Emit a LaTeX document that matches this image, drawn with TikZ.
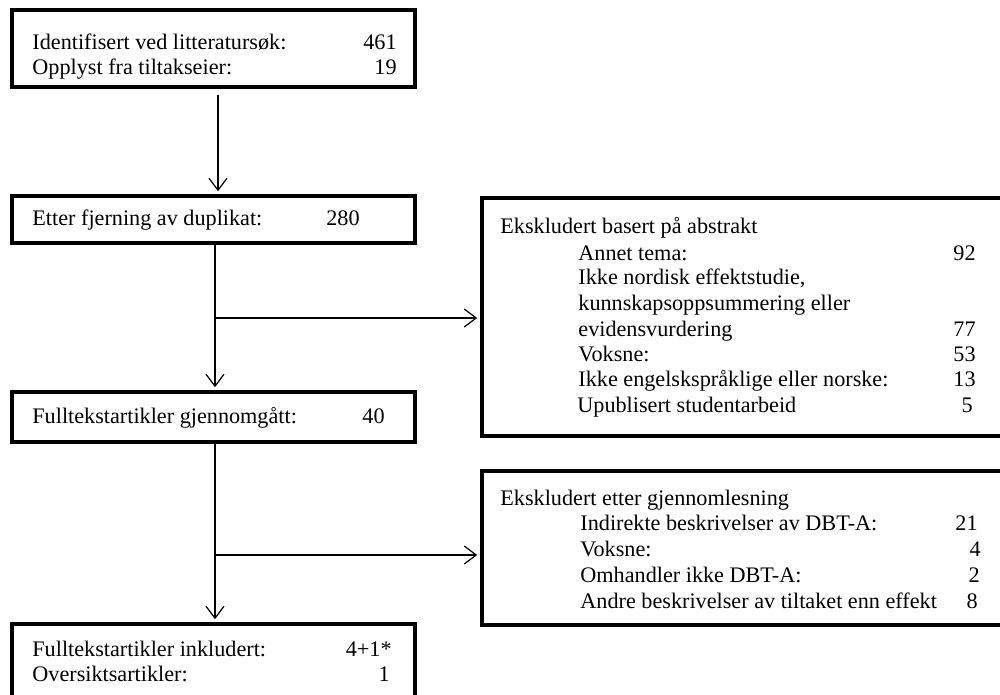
\documentclass[tikz,border=0pt]{standalone}
\usepackage{fontspec}
\setmainfont{Liberation Serif}
\usetikzlibrary{arrows.meta}
\tikzset{
  box/.style={draw=black, line width=2.4pt, fill=white, rectangle, inner sep=0pt},
  txt/.style={inner sep=0pt, anchor=base west, font=\fontsize{11.1}{13}\selectfont},
  num/.style={inner sep=0pt, anchor=base east, font=\fontsize{11.1}{13}\selectfont},
  arr/.style={draw=black, line width=0.6pt, -{Straight Barb[length=6pt,width=9pt,line width=0.6pt]}, shorten >=1.2pt}
}
\begin{document}
\begin{tikzpicture}[x=0.5pt,y=-0.5pt]
\useasboundingbox (0,0) rectangle (1000,695);
\clip (0,0) rectangle (1000,695);
\fill[white] (0,0) rectangle (1000,695);
% boxes
\node[box, minimum width=201.5pt, minimum height=38.5pt] (box1) at (213.5,48.5) {};
\node[box, minimum width=201.5pt, minimum height=23.5pt] (box2) at (213.5,219.5) {};
\node[box, minimum width=201.5pt, minimum height=25pt] (box3) at (213.5,417) {};
\node[box, minimum width=201.5pt, minimum height=40.5pt] (box4) at (213.5,664.5) {};
\node[box, minimum width=264pt, minimum height=119pt] (rb1) at (746,317) {};
\node[box, minimum width=264pt, minimum height=77pt] (rb2) at (746,548) {};
% box 1 text
\node[txt] (t11) at (32,50) {Identifisert ved litteratursøk:};
\node[num] (n11) at (397,50) {461};
\node[txt] (t12) at (32,75) {Opplyst fra tiltakseier:};
\node[num] (n12) at (397,75) {19};
% box 2 text
\node[txt] (t21) at (32,226) {Etter fjerning av duplikat:};
\node[num] (n21) at (360,226) {280};
% box 3 text
\node[txt] (t31) at (32,423) {Fulltekstartikler gjennomgått:};
\node[num] (n31) at (385,423) {40};
% box 4 text
\node[txt] (t41) at (32,656) {Fulltekstartikler inkludert:};
\node[num] (n41) at (392,656) {4+1*};
\node[txt] (t42) at (32,681) {Oversiktsartikler:};
\node[num] (n42) at (390,681) {1};
% right box 1 text
\node[txt] (r10) at (500,234) {Ekskludert basert på abstrakt};
\node[txt] (r11) at (578,260) {Annet tema:};
\node[num] (m11) at (976,260) {92};
\node[txt] (r12) at (578,285) {Ikke nordisk effektstudie,};
\node[txt] (r13) at (578,310) {kunnskapsoppsummering eller};
\node[txt] (r14) at (578,336) {evidensvurdering};
\node[num] (m14) at (976,336) {77};
\node[txt] (r15) at (578,361) {Voksne:};
\node[num] (m15) at (976,361) {53};
\node[txt] (r16) at (578,386) {Ikke engelskspråklige eller norske:};
\node[num] (m16) at (976,386) {13};
\node[txt] (r17) at (577,412) {Upublisert studentarbeid};
\node[num] (m17) at (973,412) {5};
% right box 2 text
\node[txt] (r20) at (500,505) {Ekskludert etter gjennomlesning};
\node[txt] (r21) at (580,530) {Indirekte beskrivelser av DBT-A:};
\node[num] (m21) at (978,530) {21};
\node[txt] (r22) at (580,556) {Voksne:};
\node[num] (m22) at (981,556) {4};
\node[txt] (r23) at (580,582) {Omhandler ikke DBT-A:};
\node[num] (m23) at (980,582) {2};
\node[txt] (r24) at (580,608) {Andre beskrivelser av tiltaket enn effekt};
\node[num] (m24) at (978,608) {8};
% connectors
\coordinate (a1) at (218,95);
\coordinate (v) at (215,0);
\coordinate (br1) at (215,318);
\coordinate (br2) at (215,555);
\draw[arr] (a1) -- (a1 |- box2.north);
\draw[arr] (box2.south -| v) -- (box3.north -| v);
\draw[arr] (box3.south -| v) -- (box4.north -| v);
\draw[arr] (br1) -- (br1 -| rb1.west);
\draw[arr] (br2) -- (br2 -| rb2.west);
\end{tikzpicture}
\end{document}
